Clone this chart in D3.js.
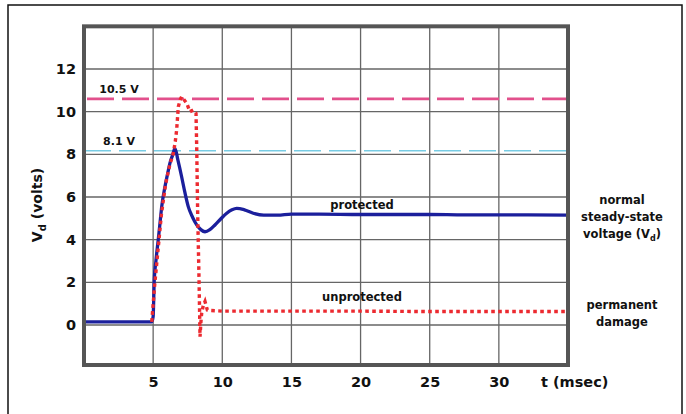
<!DOCTYPE html>
<html><head><meta charset="utf-8">
<script src="https://cdn.jsdelivr.net/npm/d3@7"></script>
<style>
html,body{margin:0;padding:0;background:#fff;}
svg{display:block;}
text{font-family:"DejaVu Sans",sans-serif;fill:#111;}
</style></head>
<body>
<script>
// ---- data ----
const xTicks = [5, 10, 15, 20, 25, 30];
const yTicks = [0, 2, 4, 6, 8, 10, 12];
const protectedT = [0, 2, 4.9, 5.0, 5.08, 5.2, 5.37, 5.5, 5.62, 5.86, 6.05, 6.22, 6.4, 6.58, 6.8, 7.06, 7.3, 7.54, 7.85, 8.15, 8.45, 8.75, 9.1, 9.47, 9.9, 10.32, 10.7, 11.04, 11.6, 12.24, 13, 14, 15, 17, 20, 25, 27.5, 30, 35];
const protectedV = [0.15, 0.15, 0.15, 0.4, 2.1, 3.0, 4.0, 4.8, 5.55, 6.5, 7.1, 7.6, 7.95, 8.28, 7.7, 6.95, 6.2, 5.55, 5.05, 4.69, 4.47, 4.37, 4.47, 4.69, 4.98, 5.24, 5.4, 5.47, 5.4, 5.24, 5.15, 5.15, 5.2, 5.2, 5.18, 5.18, 5.16, 5.16, 5.15];
const unprotectedT = [4.9, 5.1, 5.35, 5.6, 5.9, 6.2, 6.46, 6.6, 6.7, 6.82, 6.95, 7.06, 7.25, 7.43, 7.66, 7.9, 8.1, 8.15, 8.22, 8.32, 8.39, 8.45, 8.51, 8.62, 8.75, 8.92, 9.11, 10, 15, 20, 25, 30, 35];
const unprotectedV = [0.15, 1.8, 3.5, 5.2, 6.6, 7.5, 8.05, 8.6, 9.14, 10.23, 10.55, 10.7, 10.55, 10.39, 10.0, 10.08, 9.92, 8.36, 5.25, 2.1, -0.55, 0.1, 0.56, 0.9, 1.1, 0.7, 0.68, 0.65, 0.65, 0.65, 0.63, 0.63, 0.63];
const limitValues = [10.6, 8.17];
const limitLabels = ["10.5 V", "8.1 V"];
const seriesLabels = ["protected", "unprotected"];

// ---- layout ----
const W = 686, H = 414;
const svg = d3.select("body").append("svg").attr("width", W).attr("height", H);

const x = d3.scaleLinear().domain([0, 35]).range([84, 568]);
const y = d3.scaleLinear().domain([0, 12]).range([325, 69]);
const yTop = 14, yBot = -1.875;

// outer frame
svg.append("rect").attr("x", 8).attr("y", 5).attr("width", 674).attr("height", 430)
  .attr("fill", "none").attr("stroke", "#111").attr("stroke-width", 1.5);

// gridlines
const g = svg.append("g");
g.selectAll("line.vx").data(xTicks).join("line")
  .attr("x1", d => x(d)).attr("x2", d => x(d))
  .attr("y1", y(yTop)).attr("y2", y(yBot))
  .attr("stroke", "#666").attr("stroke-width", 1.3);
g.selectAll("line.hy").data(yTicks).join("line")
  .attr("y1", d => y(d)).attr("y2", d => y(d))
  .attr("x1", x(0)).attr("x2", x(35))
  .attr("stroke", "#666").attr("stroke-width", 1.3);

// axes (labels only)
const xAxis = d3.axisBottom(x).tickValues(xTicks).tickSize(0).tickPadding(0);
const xa = svg.append("g").attr("transform", `translate(0,${y(yBot) + 22})`).call(xAxis);
xa.select(".domain").remove();
xa.selectAll("text").attr("font-size", 14.5).attr("font-weight", "bold").attr("fill", "#111")
  .attr("font-family", "DejaVu Sans").attr("dy", "0");
const yAxis = d3.axisLeft(y).tickValues(yTicks).tickSize(0).tickPadding(0);
const ya = svg.append("g").attr("transform", `translate(${x(0) - 8},0)`).call(yAxis);
ya.select(".domain").remove();
ya.selectAll("text").attr("font-size", 14.5).attr("font-weight", "bold").attr("fill", "#111")
  .attr("font-family", "DejaVu Sans");

svg.append("text").attr("x", 541).attr("y", y(yBot) + 22).attr("font-size", 14.5).attr("font-weight", "bold")
  .text("t (msec)");

const yt = svg.append("text").attr("transform", `translate(42,205) rotate(-90)`)
  .attr("text-anchor", "middle").attr("font-size", 14).attr("font-weight", "bold");
yt.append("tspan").text("V");
yt.append("tspan").attr("font-size", 10).attr("dy", 4).text("d");
yt.append("tspan").attr("dy", -4).text(" (volts)");

// limit lines
const limColors = ["#e2508c", "#78cce4"];
const limWidths = [2.6, 1.6];
const limStart = [87, 84];
svg.selectAll("line.lim").data(limitValues).join("line")
  .attr("x1", (d, i) => limStart[i]).attr("x2", x(35))
  .attr("y1", d => y(d)).attr("y2", d => y(d))
  .attr("stroke", (d, i) => limColors[i]).attr("stroke-width", (d, i) => limWidths[i])
  .attr("stroke-dasharray", "27,8");
svg.selectAll("text.lim").data(limitLabels).join("text")
  .attr("x", 119).attr("y", (d, i) => y(limitValues[i]) - 6)
  .attr("text-anchor", "middle").attr("font-size", 11).attr("font-weight", "bold").text(d => d);

// curves
const line = d3.line().x(d => x(d[0])).y(d => y(d[1]));
const blueData = protectedT.map((t, i) => [t, protectedV[i]]);
const redData = unprotectedT.map((t, i) => [t, unprotectedV[i]]);
svg.append("path").datum(blueData).attr("d", line.curve(d3.curveMonotoneX))
  .attr("fill", "none").attr("stroke", "#1b1f9c").attr("stroke-width", 3.3).attr("stroke-linejoin", "round");
svg.append("path").datum(redData).attr("d", line.curve(d3.curveLinear))
  .attr("fill", "none").attr("stroke", "#ec2a30").attr("stroke-width", 3.4).attr("stroke-dasharray", "3.6,3.4");

// plot border
svg.append("rect").attr("x", x(0)).attr("y", y(yTop)).attr("width", x(35) - x(0)).attr("height", y(yBot) - y(yTop))
  .attr("fill", "none").attr("stroke", "#555").attr("stroke-width", 4);

// series labels
svg.append("text").attr("x", 362).attr("y", 209).attr("text-anchor", "middle").attr("font-size", 11.5).attr("font-weight", "bold").text(seriesLabels[0]);
svg.append("text").attr("x", 362).attr("y", 301).attr("text-anchor", "middle").attr("font-size", 11.5).attr("font-weight", "bold").text(seriesLabels[1]);

// right annotations
const ann = svg.append("g").attr("font-size", 11.5).attr("font-weight", "bold").attr("text-anchor", "middle");
ann.append("text").attr("x", 622).attr("y", 204).text("normal");
ann.append("text").attr("x", 622).attr("y", 221).text("steady-state");
const v = ann.append("text").attr("x", 622).attr("y", 238);
v.append("tspan").text("voltage (V");
v.append("tspan").attr("font-size", 8).attr("dy", 3).text("d");
v.append("tspan").attr("dy", -3).text(")");
ann.append("text").attr("x", 622).attr("y", 309).text("permanent");
ann.append("text").attr("x", 622).attr("y", 326).text("damage");
</script>
</body></html>
